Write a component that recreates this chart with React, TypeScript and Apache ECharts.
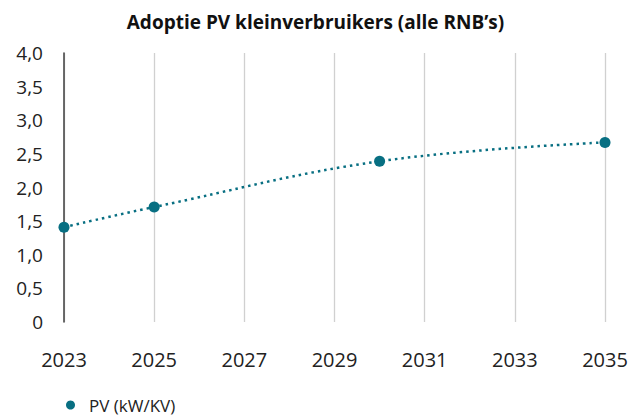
import React, { useEffect, useRef } from "react";
import * as echarts from "echarts";

const title = "Adoptie PV kleinverbruikers (alle RNB\u2019s)";
const seriesName = "PV (kW/KV)";
const years = [2023, 2025, 2030, 2035];
const values = [1.41, 1.71, 2.39, 2.67];

export default function App() {
  const ref = useRef<HTMLDivElement>(null);
  useEffect(() => {
    const chart = echarts.init(ref.current!, null, { renderer: "svg" });
    const font = "'Open Sans', Lato, sans-serif";
    chart.setOption({
      animation: false,
      textStyle: { fontFamily: font },
      title: {
        text: title,
        left: "center",
        top: 7,
        textStyle: { fontSize: 19, fontWeight: "bold", color: "#111", fontFamily: font },
      },
      legend: {
        left: 66,
        top: 396,
        padding: 0,
        itemWidth: 9,
        itemHeight: 9,
        icon: "circle",
        textStyle: { fontSize: 17, lineHeight: 18, color: "#222", fontFamily: font, padding: [0, 0, 0, 9] },
        data: [{ name: seriesName, icon: "circle" }],
      },
      grid: { left: 64, right: 26, top: 53, bottom: 94, containLabel: false },
      xAxis: {
        type: "value",
        min: 2023,
        max: 2035,
        interval: 2,
        axisLine: { show: false },
        axisTick: { show: false },
        axisLabel: {
          fontSize: 20,
          color: "#222",
          margin: 27,
          fontFamily: font,
          formatter: (v: number) => String(v),
        },
        splitLine: { show: true, lineStyle: { color: "#d0d0d0", width: 1.3 } },
      },
      yAxis: {
        type: "value",
        min: 0,
        max: 4,
        interval: 0.5,
        axisLine: { show: true, lineStyle: { color: "#4a4a4a", width: 1.6 } },
        axisTick: { show: false },
        splitLine: { show: false },
        axisLabel: {
          fontSize: 19,
          color: "#222",
          margin: 21,
          fontFamily: font,
          formatter: (v: number) => (v === 0 ? "0" : v.toFixed(1).replace(".", ",")),
        },
      },
      series: [
        {
          name: seriesName,
          type: "line",
          data: years.map((y, i) => [y, values[i]]),
          smooth: 0.4,
          symbol: "circle",
          symbolSize: 11,
          itemStyle: { color: "#086f82" },
          lineStyle: { color: "#086f82", width: 2.5, type: [2.5, 4] },
        },
      ],
    });
    return () => chart.dispose();
  }, []);
  return <div ref={ref} style={{ width: 631, height: 416, position: "absolute", left: 0, top: 0 }} />;
}
